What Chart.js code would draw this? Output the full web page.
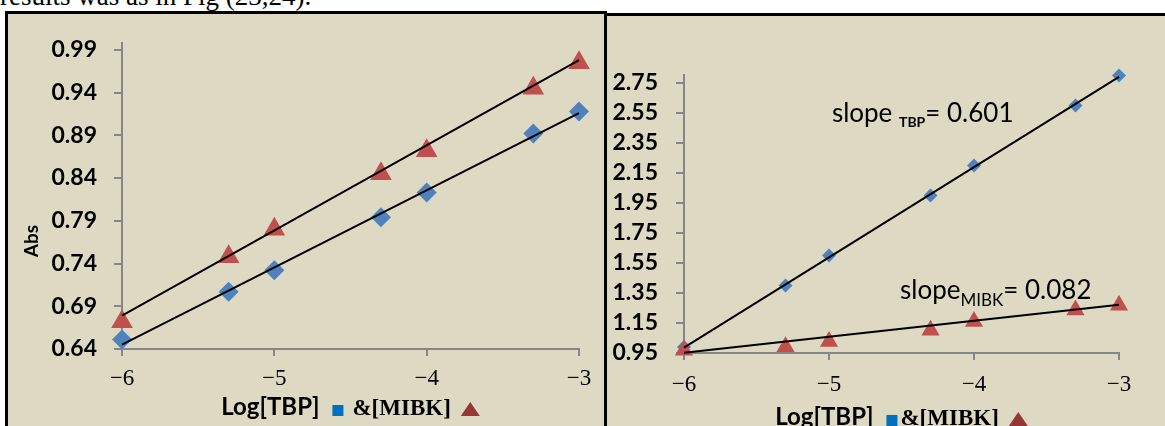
<!DOCTYPE html>
<html>
<head>
<meta charset="utf-8">
<script src="https://cdn.jsdelivr.net/npm/chart.js@4.4.1/dist/chart.umd.min.js"></script>
<style>
  html, body { margin: 0; padding: 0; background: #fff; width: 1165px; height: 426px; overflow: hidden; }
  .box { position: absolute; border: 3px solid #000; background: #ddd9c3; }
  #boxL { left: 5px; top: 11px; width: 596px; height: 460px; }
  #boxR { left: 604px; top: 13px; width: 558px; height: 460px; }
  canvas { position: absolute; top: 0; }
  #lineText { position: absolute; left: 0; top: -17px; font: 27px "Liberation Serif", serif; line-height: 27px; white-space: nowrap; color: #000; }
</style>
</head>
<body>
<div id="lineText">results was as in Fig (23,24).</div>
<div class="box" id="boxL"></div>
<div class="box" id="boxR"></div>
<canvas id="chartL" width="604" height="426" style="left:0"></canvas>
<canvas id="chartR" width="559" height="426" style="left:606px"></canvas>
<script>
// log concentrations on the x axis
const logConc = [-6, -5.3, -5, -4.3, -4, -3.3, -3];
const xTicks = [-6, -5, -4, -3];

// absorbance vs log[TBP] and log[MIBK]
const absTBP = [0.651, 0.707, 0.732, 0.794, 0.823, 0.892, 0.918];
const absMIBK = [0.672, 0.748, 0.780, 0.845, 0.872, 0.945, 0.975];
const absTicks = [0.64, 0.69, 0.74, 0.79, 0.84, 0.89, 0.94, 0.99];

// second plot
const valTBP = [0.99, 1.40, 1.60, 2.00, 2.20, 2.60, 2.80];
const valMIBK = [0.969, 0.991, 1.027, 1.102, 1.160, 1.236, 1.269];
const valTicks = [0.95, 1.15, 1.35, 1.55, 1.75, 1.95, 2.15, 2.35, 2.55, 2.75];

// trend line ends at x = -6 and x = -3
const trendX = [-6, -3];
const trendAbsTBP = [0.645, 0.916];
const trendAbsMIBK = [0.679, 0.978];
const trendValTBP = [0.986, 2.79];
const trendValMIBK = [0.952, 1.272];

const slopeTBP = '0.601';
const slopeMIBK = '0.082';

const BLUE = '#4f81bd';
const RED = '#c0504d';
const AXIS = '#868686';

function pts(xs, ys) {
  return xs.map((x, i) => ({ x: x, y: ys[i] }));
}

// draws a run of text pieces (and little legend shapes) on one baseline
function drawParts(ctx, parts, x, y, center) {
  ctx.save();
  ctx.textAlign = 'left';
  ctx.textBaseline = 'alphabetic';
  let total = 0;
  parts.forEach(p => {
    if (p.shape) p.w = p.size;
    else { ctx.font = p.font; p.w = ctx.measureText(p.text).width; }
    total += p.w + (p.gap || 0);
  });
  let cx = center ? x - total / 2 : x;
  parts.forEach(p => {
    ctx.fillStyle = p.color || '#000';
    if (p.shape === 'square') {
      ctx.fillRect(cx, y + p.dy - p.size, p.size, p.size);
    } else if (p.shape === 'triangle') {
      ctx.beginPath();
      ctx.moveTo(cx, y + p.dy);
      ctx.lineTo(cx + p.size, y + p.dy);
      ctx.lineTo(cx + p.size / 2, y + p.dy - p.h);
      ctx.closePath();
      ctx.fill();
    } else {
      ctx.font = p.font;
      ctx.fillText(p.text, cx, y + (p.dy || 0));
    }
    cx += p.w + (p.gap || 0);
  });
  ctx.restore();
}

const captions = {
  id: 'captions',
  afterDatasetsDraw(chart, args, opts) {
    const ctx = chart.ctx;
    const area = chart.chartArea;
    if (opts.xTitle) {
      drawParts(ctx, opts.xTitle.parts, (area.left + area.right) / 2, area.bottom + opts.xTitle.offset, true);
    }
    if (opts.yTitle) {
      ctx.save();
      ctx.translate(opts.yTitle.x, opts.yTitle.y);
      ctx.rotate(-Math.PI / 2);
      ctx.font = opts.yTitle.font;
      ctx.fillStyle = '#000';
      ctx.textAlign = 'center';
      ctx.textBaseline = 'middle';
      ctx.fillText(opts.yTitle.text, 0, 0);
      ctx.restore();
    }
    (opts.notes || []).forEach(n => {
      const px = chart.scales.x.getPixelForValue(n.x);
      const py = chart.scales.y.getPixelForValue(n.y);
      drawParts(ctx, n.parts, px, py, false);
    });
  }
};

function xTitleParts(gaps) {
  return [
    { text: 'Log[TBP]', font: 'bold 24px Lato', gap: gaps[0] },
    { shape: 'square', size: 11, dy: 1, color: '#0070c0', gap: gaps[1] },
    { text: '&[MIBK]', font: 'bold 23px "Liberation Serif"', gap: gaps[2] },
    { shape: 'triangle', size: 19, h: 14, dy: 1, color: '#953735' }
  ];
}

function buildChart(id, o) {
  const scatterSet = (label, data, style, r, color) => ({
    type: 'scatter', label: label, data: data, pointStyle: style, pointRadius: r,
    backgroundColor: color, borderColor: color, borderWidth: 0, clip: false
  });
  const trendSet = (label, data) => ({
    type: 'line', label: label, data: data, borderColor: '#000', borderWidth: 2,
    pointRadius: 0, fill: false, clip: false
  });
  return new Chart(document.getElementById(id), {
    type: 'scatter',
    data: {
      datasets: [
        trendSet('trend TBP', pts(trendX, o.trendTBP)),
        trendSet('trend MIBK', pts(trendX, o.trendMIBK)),
        scatterSet('MIBK', pts(logConc, o.mibk), 'triangle', o.triR, RED),
        scatterSet('TBP', pts(logConc, o.tbp), 'rectRot', o.diaR, BLUE)
      ]
    },
    options: {
      responsive: false,
      animation: false,
      events: [],
      layout: { padding: o.padding },
      plugins: {
        legend: { display: false },
        tooltip: { enabled: false },
        captions: o.captions
      },
      scales: {
        x: {
          type: 'linear', min: -6, max: -3,
          afterBuildTicks: s => { s.ticks = xTicks.map(v => ({ value: v })); },
          afterFit: s => { s.height = o.xHeight; },
          ticks: {
            color: '#000', padding: o.xPad,
            font: { family: 'Liberation Serif', size: 23 },
            callback: v => (v < 0 ? '\u2212' : '') + Math.abs(v)
          },
          grid: { drawOnChartArea: false, tickLength: 7, color: AXIS, lineWidth: 2 },
          border: { color: AXIS, width: 2 }
        },
        y: {
          type: 'linear', min: o.yMin, max: o.yMax,
          afterBuildTicks: s => { s.ticks = o.yTicks.map(v => ({ value: v })); },
          afterFit: s => { s.width = o.yWidth; },
          ticks: {
            color: '#000', padding: o.yPad,
            font: { family: 'Lato', weight: 'bold', size: 23 },
            callback: v => v.toFixed(2)
          },
          grid: { drawOnChartArea: false, tickLength: 8, color: AXIS, lineWidth: 2 },
          border: { color: AXIS, width: 2 }
        }
      }
    },
    plugins: [captions]
  });
}

buildChart('chartL', {
  tbp: absTBP, mibk: absMIBK, trendTBP: trendAbsTBP, trendMIBK: trendAbsMIBK,
  yMin: 0.64, yMax: 0.998, yTicks: absTicks,
  padding: { left: 0, top: 43, right: 25, bottom: 0 },
  yWidth: 122, xHeight: 77, xPad: 9, yPad: 17,
  diaR: 10, triR: 12.5,
  captions: {
    xTitle: { offset: 66, parts: xTitleParts([13, 9, 10]) },
    yTitle: { text: 'Abs', font: 'bold 19px Lato', x: 32, y: 241 }
  }
});

buildChart('chartR', {
  tbp: valTBP, mibk: valMIBK, trendTBP: trendValTBP, trendMIBK: trendValMIBK,
  yMin: 0.95, yMax: 2.803, yTicks: valTicks,
  padding: { left: 0, top: 75, right: 46, bottom: 0 },
  yWidth: 78, xHeight: 73, xPad: 11, yPad: 18,
  diaR: 7, triR: 10.5,
  captions: {
    xTitle: { offset: 72, parts: xTitleParts([13, 3, 10]) },
    notes: [
      { x: -4.98, y: 2.49, parts: [
        { text: 'slope ', font: '26px Lato' },
        { text: 'TBP', font: 'bold 14px Lato', dy: 5 },
        { text: '= ' + slopeTBP, font: '26px Lato' }
      ] },
      { x: -4.51, y: 1.31, parts: [
        { text: 'slope', font: '26px Lato' },
        { text: 'MIBK', font: '17px Lato', dy: 7 },
        { text: '= ' + slopeMIBK, font: '26px Lato' }
      ] }
    ]
  }
});
</script>
</body>
</html>
